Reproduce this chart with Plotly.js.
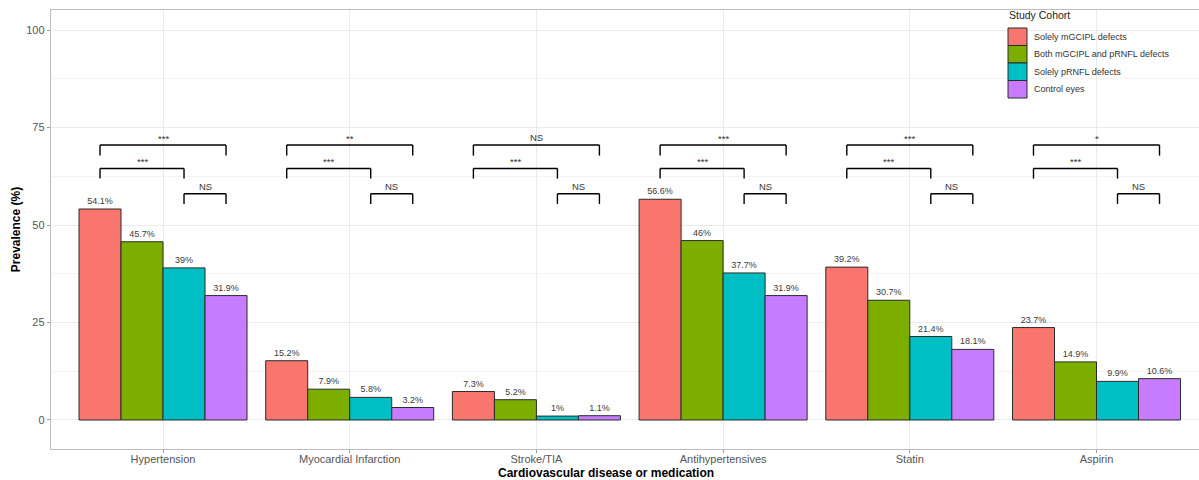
<!DOCTYPE html>
<html>
<head>
<meta charset="utf-8">
<script src="https://cdn.plot.ly/plotly-3.0.1.min.js"></script>
<style>html,body{margin:0;padding:0;background:#fff;}#chart{width:1199px;height:480px;}</style>
</head>
<body>
<div id="chart"></div>
<script>
// ---- data ----
const categories = ["Hypertension", "Myocardial Infarction", "Stroke/TIA", "Antihypertensives", "Statin", "Aspirin"];
const cohortNames = ["Solely mGCIPL defects", "Both mGCIPL and pRNFL defects", "Solely pRNFL defects", "Control eyes"];
const solelyMGCIPL = [54.1, 15.2, 7.3, 56.6, 39.2, 23.7];
const bothDefects = [45.7, 7.9, 5.2, 46, 30.7, 14.9];
const solelyPRNFL = [39, 5.8, 1, 37.7, 21.4, 9.9];
const controlEyes = [31.9, 3.2, 1.1, 31.9, 18.1, 10.6];
const yTickVals = [0, 25, 50, 75, 100];
// significance comparisons: [group a, group b, bracket y, tip y]
const comparisons = [[0, 3, 70.5, 67.8], [0, 2, 64.5, 61.9], [2, 3, 58.0, 55.4]];
const sigLabelsTop = ["***", "**", "NS", "***", "***", "*"];
const sigLabelsMid = ["***", "***", "***", "***", "***", "***"];
const sigLabelsLow = ["NS", "NS", "NS", "NS", "NS", "NS"];
const legendTitle = "Study Cohort";

// ---- style ----
const colors = ["#F8766D", "#7CAE00", "#00BFC4", "#C77CFF"];
const series = [solelyMGCIPL, bothDefects, solelyPRNFL, controlEyes];
const font = "Liberation Sans, Arial, Helvetica, sans-serif";

const traces = series.map((vals, i) => ({
  type: "bar",
  name: cohortNames[i],
  x: categories,
  y: vals,
  text: vals.map(v => v + "%"),
  textposition: "outside",
  cliponaxis: false,
  constraintext: "none",
  textfont: {family: font, size: 9, color: "#3a3a3a"},
  marker: {color: colors[i], line: {color: "#2b2b2b", width: 1}},
  showlegend: false,
  hoverinfo: "x+y+name"
}));

const barW = 0.9 / 4;
const barCenter = (cat, g) => cat + (g - 1.5) * barW;
const shapes = [];
const annotations = [];
const sigSets = [sigLabelsTop, sigLabelsMid, sigLabelsLow];
categories.forEach((c, ci) => {
  comparisons.forEach((cmp, k) => {
    const x0 = barCenter(ci, cmp[0]), x1 = barCenter(ci, cmp[1]);
    const line = {color: "#000", width: 1.4};
    shapes.push({type: "line", xref: "x", yref: "y", x0: x0, x1: x1, y0: cmp[2], y1: cmp[2], line: line});
    shapes.push({type: "line", xref: "x", yref: "y", x0: x0, x1: x0, y0: cmp[2], y1: cmp[3], line: line});
    shapes.push({type: "line", xref: "x", yref: "y", x0: x1, x1: x1, y0: cmp[2], y1: cmp[3], line: line});
    const lab = sigSets[k][ci];
    annotations.push({
      xref: "x", yref: "y", x: (x0 + x1) / 2, y: cmp[2],
      text: lab, showarrow: false, yanchor: "bottom", yshift: lab === "NS" ? 0 : -1,
      font: {family: font, size: 9.5, color: "#333"}
    });
  });
});

// plot area in pixels (for paper-anchored legend / titles)
const M = {l: 51, r: 0, t: 10, b: 31};
const W = 1199, H = 480;
const pw = W - M.l - M.r, ph = H - M.t - M.b;
const px = x => (x - M.l) / pw;
const py = y => (H - M.b - y) / ph;

// legend (inside the panel, top-right, transparent background)
annotations.push({
  xref: "paper", yref: "paper", x: px(1007), y: py(15), xanchor: "left", yanchor: "middle",
  text: legendTitle, showarrow: false, font: {family: font, size: 10.5, color: "#222"}
});
cohortNames.forEach((nm, i) => {
  const top = 28 + i * 17.5;
  shapes.push({
    type: "rect", xref: "paper", yref: "paper",
    x0: px(1008), x1: px(1027), y0: py(top), y1: py(top + 17.5),
    fillcolor: colors[i], line: {color: "#2b2b2b", width: 1}
  });
  annotations.push({
    xref: "paper", yref: "paper", x: px(1032), y: py(top + 8.75), xanchor: "left", yanchor: "middle",
    text: nm, showarrow: false, font: {family: font, size: 9, color: "#333"}
  });
});

annotations.push({
  xref: "paper", yref: "paper", x: px(606), y: py(473), yanchor: "middle", xanchor: "center",
  text: "<b>Cardiovascular disease or medication</b>", showarrow: false,
  font: {family: font, size: 12, color: "#000"}
});

const layout = {
  width: W, height: H,
  margin: {l: M.l, r: M.r, t: M.t, b: M.b, pad: 0},
  paper_bgcolor: "#fff", plot_bgcolor: "#fff",
  font: {family: font, color: "#4d4d4d"},
  barmode: "group", bargap: 0.1, bargroupgap: 0,
  showlegend: false,
  xaxis: {
    type: "category",
    range: [-0.6, 5.549],
    showgrid: true, gridcolor: "#ebebeb", gridwidth: 1,
    showline: true, linecolor: "#bdbdbd", linewidth: 1.2, mirror: true,
    ticks: "outside", ticklen: 3, tickcolor: "#9a9a9a",
    ticklabelstandoff: -3,
    tickfont: {family: font, size: 11, color: "#555"},
    zeroline: false, fixedrange: true
  },
  yaxis: {
    range: [-7.44, 105.13],
    tickvals: yTickVals,
    ticktext: yTickVals.map(String),
    showgrid: true, gridcolor: "#ebebeb", gridwidth: 1,
    minor: {tickvals: [12.5, 37.5, 62.5, 87.5], showgrid: true, gridcolor: "#f4f4f4", gridwidth: 1, ticks: ""},
    showline: true, linecolor: "#bdbdbd", linewidth: 1.2, mirror: false,
    ticks: "outside", ticklen: 3, tickcolor: "#9a9a9a",
    tickfont: {family: font, size: 11, color: "#555"},
    zeroline: false, fixedrange: true,
    title: {text: "<b>Prevalence (%)</b>", font: {family: font, size: 12, color: "#000"}, standoff: 3}
  },
  shapes: shapes,
  annotations: annotations
};

Plotly.newPlot("chart", traces, layout, {displayModeBar: false, staticPlot: true});
</script>
</body>
</html>
